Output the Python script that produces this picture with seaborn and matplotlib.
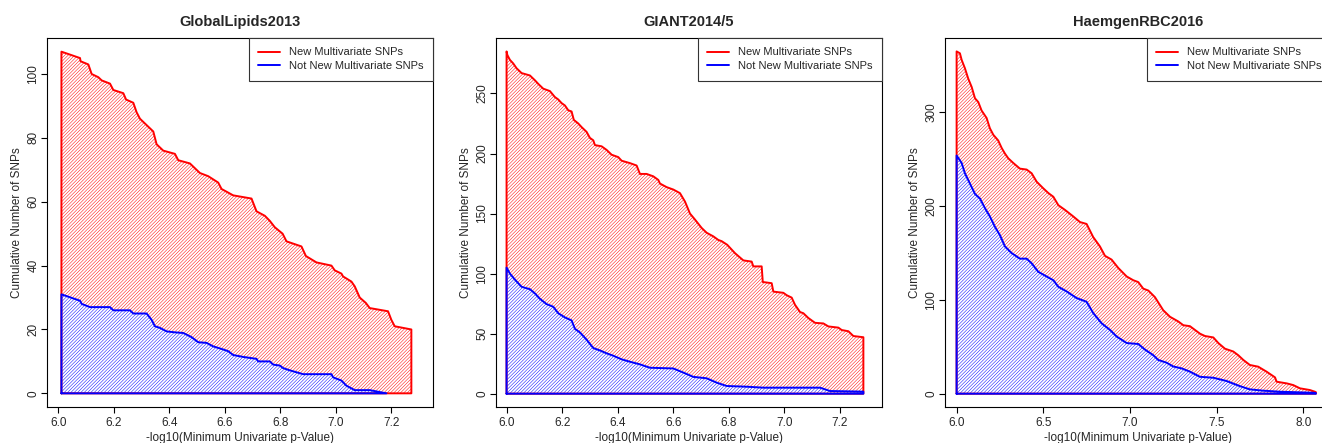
import numpy as np
import pandas as pd
import matplotlib
matplotlib.use("Agg")
import matplotlib.pyplot as plt
import seaborn as sns

# ---------------- data ----------------
titles = ["GlobalLipids2013", "GIANT2014/5", "HaemgenRBC2016"]
legend_labels = ["New Multivariate SNPs", "Not New Multivariate SNPs"]
x_label = "-log10(Minimum Univariate p-Value)"
y_label = "Cumulative Number of SNPs"

gl_all_x = [6.011, 6.078, 6.080, 6.108, 6.120, 6.144, 6.156, 6.186, 6.198, 6.234,
            6.244, 6.270, 6.282, 6.294, 6.318, 6.342, 6.354, 6.378, 6.420, 6.432,
            6.474, 6.510, 6.540, 6.576, 6.588, 6.630, 6.696, 6.714, 6.744, 6.762,
            6.780, 6.808, 6.822, 6.876, 6.892, 6.930, 6.984, 6.996, 7.020, 7.026,
            7.056, 7.068, 7.086, 7.108, 7.122, 7.188, 7.200, 7.212, 7.272]
gl_all_y = [107, 105, 104, 103, 100, 99, 98, 97, 95, 94,
            92, 91, 88, 86, 84, 82, 78, 76, 75, 73,
            72, 69, 68, 66, 64, 62, 61, 57, 55.6, 54,
            52, 50, 47.6, 46, 43, 41, 40, 38.5, 37.5, 36.6,
            35, 33.5, 30, 28.3, 26.7, 25.7, 23, 21, 20]
gl_old_x = [6.011, 6.078, 6.084, 6.114, 6.186, 6.198, 6.258, 6.270, 6.318, 6.336,
            6.348, 6.366, 6.390, 6.420, 6.450, 6.480, 6.504, 6.534, 6.558, 6.588,
            6.612, 6.630, 6.666, 6.714, 6.720, 6.762, 6.774, 6.798, 6.810, 6.834,
            6.882, 6.984, 6.990, 7.020, 7.038, 7.068, 7.122, 7.182]
gl_old_y = [31, 29, 28, 27, 27, 26, 26, 25, 25, 23,
            21, 20.5, 19.4, 19.1, 18.9, 17.6, 16, 15.8, 14.7, 13.9,
            13.2, 12, 11.4, 10.8, 10, 10, 9, 8.7, 7.9, 7.2,
            6, 6, 5, 4, 2.4, 1, 1, 0]

gi_all_x = [6.000, 6.003, 6.012, 6.024, 6.036, 6.054, 6.084, 6.102, 6.114, 6.132,
            6.156, 6.174, 6.186, 6.198, 6.210, 6.222, 6.234, 6.242, 6.258, 6.270,
            6.288, 6.300, 6.312, 6.318, 6.342, 6.360, 6.378, 6.402, 6.414, 6.444,
            6.468, 6.480, 6.504, 6.528, 6.546, 6.552, 6.576, 6.600, 6.624, 6.642,
            6.660, 6.678, 6.702, 6.720, 6.744, 6.762, 6.774, 6.794, 6.822, 6.852,
            6.882, 6.888, 6.918, 6.922, 6.954, 6.960, 6.996, 7.008, 7.026, 7.038,
            7.056, 7.068, 7.086, 7.110, 7.140, 7.158, 7.194, 7.206, 7.230, 7.248,
            7.284]
gi_all_y = [285, 282, 278, 275, 271, 267, 265, 261, 258, 254,
            252, 247, 245, 242, 240, 236, 235, 228, 225, 222,
            218, 213, 211, 207, 206, 203, 199, 197, 194, 192,
            190, 183, 183, 181, 178, 175, 172, 170, 167, 160,
            150, 145, 138, 134, 131, 128, 127, 124, 117, 111,
            110, 106, 106, 93, 92, 85, 84, 82, 80, 74,
            68, 67, 63, 59, 58.5, 56, 55, 53, 52, 48,
            47]
gi_old_x = [6.000, 6.012, 6.030, 6.054, 6.084, 6.102, 6.120, 6.144, 6.168, 6.186,
            6.210, 6.234, 6.246, 6.264, 6.288, 6.312, 6.336, 6.360, 6.384, 6.414,
            6.444, 6.480, 6.516, 6.600, 6.642, 6.672, 6.720, 6.756, 6.792, 6.864,
            6.924, 7.128, 7.164, 7.284]
gi_old_y = [105, 100, 95, 89, 87, 83.5, 79, 74.6, 72.4, 67,
            63.5, 61, 54, 51, 45, 38, 36, 33.6, 31.6, 28.6,
            26.6, 24.4, 21.6, 21, 17, 14, 12.8, 9.2, 6.4, 5.8,
            5, 5, 2.2, 1.7]

hb_all_x = [6.000, 6.019, 6.029, 6.048, 6.067, 6.087, 6.106, 6.125, 6.144, 6.173,
            6.192, 6.212, 6.240, 6.260, 6.279, 6.298, 6.327, 6.365, 6.404, 6.433,
            6.462, 6.500, 6.529, 6.558, 6.587, 6.625, 6.673, 6.712, 6.750, 6.788,
            6.827, 6.856, 6.894, 6.933, 6.981, 7.019, 7.048, 7.077, 7.106, 7.144,
            7.192, 7.231, 7.279, 7.308, 7.346, 7.404, 7.433, 7.481, 7.510, 7.548,
            7.596, 7.625, 7.654, 7.692, 7.740, 7.788, 7.837, 7.846, 7.904, 7.942,
            7.981, 8.038, 8.067, 8.073]
hb_all_y = [365, 363, 356, 347, 336, 327, 315, 311, 302, 294,
            283, 276, 270, 262, 256, 251, 246, 240, 239, 235,
            226, 219, 214, 210, 201, 196, 189, 183, 181, 167,
            157, 147, 143, 134, 125, 121, 119, 112, 110, 103,
            89, 82, 77, 73, 72, 64, 61.5, 60, 54, 48,
            45, 41, 36, 30.6, 28.8, 23.5, 17.4, 12.8, 11, 9.2,
            5.7, 3.9, 2.1, 1.5]
hb_old_x = [6.000, 6.029, 6.048, 6.077, 6.106, 6.135, 6.163, 6.192, 6.221, 6.250,
            6.279, 6.317, 6.365, 6.404, 6.433, 6.471, 6.519, 6.558, 6.587, 6.635,
            6.692, 6.750, 6.788, 6.837, 6.885, 6.923, 6.981, 7.048, 7.087, 7.135,
            7.163, 7.212, 7.250, 7.298, 7.346, 7.404, 7.481, 7.558, 7.635, 7.692,
            7.769, 7.865, 8.058, 8.073]
hb_old_y = [254, 246, 235, 224, 213, 208, 198, 189, 178, 169,
            157, 150, 144, 144, 139, 130, 125, 121, 114, 109,
            102, 98, 86, 75, 68, 61, 54, 53, 47, 41,
            36, 33, 29, 27, 23.5, 18, 17, 13.5, 8, 4.6,
            3.2, 2.1, 1, 0.5]

x_ticks = [[6.0, 6.2, 6.4, 6.6, 6.8, 7.0, 7.2],
           [6.0, 6.2, 6.4, 6.6, 6.8, 7.0, 7.2],
           [6.0, 6.5, 7.0, 7.5, 8.0]]
y_ticks = [[0, 20, 40, 60, 80, 100],
           [0, 50, 100, 150, 200, 250],
           [0, 100, 200, 300]]

# ---------------- style ----------------
sns.set_style("ticks")
plt.rcParams["font.family"] = ["Liberation Sans", "DejaVu Sans"]
plt.rcParams["hatch.linewidth"] = 0.35
FS = 8.5

fig = plt.figure(figsize=(13.22, 4.43), dpi=100)
W, H = 1322, 443
lefts = [47, 496, 945]
aw, top, bot = 386, 38, 407
xlims = [(5.959, 7.350), (5.962, 7.351), (5.933, 8.160)]
ylims = [(-4.28, 111.28), (-11.1, 296.2), (-14.2, 379.3)]

panels = [(gl_all_x, gl_all_y, gl_old_x, gl_old_y),
          (gi_all_x, gi_all_y, gi_old_x, gi_old_y),
          (hb_all_x, hb_all_y, hb_old_x, hb_old_y)]

RED, BLUE = "#ff0000", "#0000ff"
HATCH = "/" * 10

for i, (ax_x, ax_y, bx, by) in enumerate(panels):
    ax = fig.add_axes([lefts[i] / W, (H - bot) / H, aw / W, (bot - top) / H])

    # hatched areas
    ax.fill_between(ax_x, ax_y, 0, facecolor="white", edgecolor=RED,
                    hatch=HATCH, linewidth=0, zorder=1)
    ax.fill_between(bx, by, 0, facecolor="white", edgecolor=BLUE,
                    hatch=HATCH, linewidth=0, zorder=2)

    # polygon outlines
    rx = [ax_x[0]] + list(ax_x) + [ax_x[-1], ax_x[0]]
    ry = [0] + list(ax_y) + [0, 0]
    qx = [bx[0]] + list(bx) + [bx[-1], bx[0]]
    qy = [0] + list(by) + [0, 0]
    sns.lineplot(x=rx, y=ry, sort=False, estimator=None, color=RED, lw=1.4,
                 ax=ax, label=legend_labels[0], zorder=3)
    sns.lineplot(x=qx, y=qy, sort=False, estimator=None, color=BLUE, lw=1.4,
                 ax=ax, label=legend_labels[1], zorder=4)

    ax.set_xlim(*xlims[i])
    ax.set_ylim(*ylims[i])
    ax.set_xticks(x_ticks[i])
    ax.set_xticklabels([f"{v:.1f}" for v in x_ticks[i]])
    ax.set_yticks(y_ticks[i])
    ax.set_yticklabels([str(v) for v in y_ticks[i]], rotation=90, va="center")
    ax.tick_params(axis="both", length=4.5, width=0.8, color="black",
                   labelsize=FS, direction="out")
    ax.tick_params(axis="x", pad=2.5)
    ax.tick_params(axis="y", pad=1.0)
    for s in ax.spines.values():
        s.set_visible(True)
        s.set_color("black")
        s.set_linewidth(0.8)
    ax.set_xlabel(x_label, fontsize=FS, labelpad=2.5)
    ax.set_ylabel(y_label, fontsize=FS, labelpad=3)
    ax.set_title(titles[i], fontsize=10.5, fontweight="bold", pad=8.5)

    leg = ax.legend(loc="upper right", bbox_to_anchor=(1, 1), borderaxespad=0,
                    fancybox=False, framealpha=1, edgecolor="#333333",
                    fontsize=8.0, handlelength=2.0, handletextpad=0.8,
                    labelspacing=0.35, borderpad=0.85)
    leg.get_frame().set_linewidth(0.8)
    for ln in leg.get_lines():
        ln.set_linewidth(1.4)

fig.savefig("out.png", dpi=100)
